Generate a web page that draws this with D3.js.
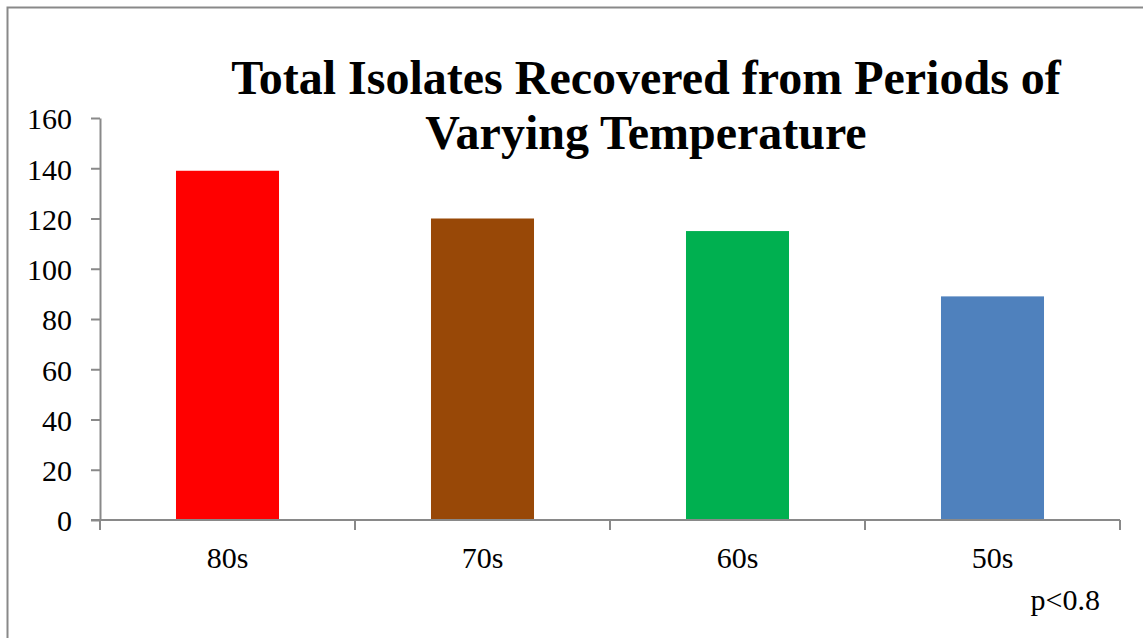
<!DOCTYPE html>
<html>
<head>
<meta charset="utf-8">
<script src="https://cdn.jsdelivr.net/npm/d3@7"></script>
<style>
  html, body { margin: 0; padding: 0; background: #fff; }
  svg { display: block; }
  svg text { font-family: "Liberation Serif", "Times New Roman", Times, serif; fill: #000; }
</style>
</head>
<body>
<svg id="chart" width="1143" height="638"></svg>
<script>
// Isolate counts per temperature period
const categories = ["80s", "70s", "60s", "50s"];
const isolates = [139, 120, 115, 89];
const barColors = ["#FF0000", "#984807", "#00B050", "#4F81BD"];
const yTicks = [0, 20, 40, 60, 80, 100, 120, 140, 160];
const titleLines = ["Total Isolates Recovered from Periods of", "Varying Temperature"];
const note = "p<0.8";

const serif = "'Liberation Serif', 'Times New Roman', Times, serif";
const svg = d3.select("#chart");
const axisColor = "#898989";

// outer frame (open on the right)
svg.append("path")
  .attr("d", "M7.5,645 V7.5 H1143")
  .attr("fill", "none")
  .attr("stroke", axisColor)
  .attr("stroke-width", 2);

const plot = { left: 100, right: 1120, top: 118, bottom: 520 };

const x = d3.scaleBand()
  .domain(categories)
  .range([plot.left, plot.right])
  .padding(0);

const y = d3.scaleLinear()
  .domain([0, 160])
  .range([plot.bottom, plot.top]);

const barFrac = 0.404;

// bars
svg.append("g").selectAll("rect")
  .data(categories)
  .join("rect")
  .attr("x", (d) => x(d) + x.bandwidth() * (1 - barFrac) / 2)
  .attr("width", x.bandwidth() * barFrac)
  .attr("y", (d, i) => y(isolates[i]))
  .attr("height", (d, i) => y(0) - y(isolates[i]))
  .attr("fill", (d, i) => barColors[i]);

// y axis
const yAxis = svg.append("g")
  .attr("transform", `translate(${plot.left},0)`)
  .call(d3.axisLeft(y).tickValues(yTicks).tickSize(9).tickPadding(19).tickSizeOuter(0));
yAxis.attr("font-family", serif);
yAxis.select(".domain").attr("stroke", axisColor).attr("stroke-width", 2);
yAxis.selectAll(".tick line").attr("stroke", axisColor).attr("stroke-width", 2);
yAxis.selectAll(".tick text")
  .style("font-family", serif)
  .style("font-size", "30px")
  .attr("fill", "#000")
  .attr("dy", "0.36em");

// x axis: ticks sit on category boundaries
const xAxisG = svg.append("g").attr("transform", `translate(0,${plot.bottom})`);
xAxisG.append("line")
  .attr("x1", plot.left - 9).attr("x2", plot.right)
  .attr("y1", 0).attr("y2", 0)
  .attr("stroke", axisColor).attr("stroke-width", 2);
const boundaries = categories.map((c) => x(c)).concat([x(categories[categories.length - 1]) + x.bandwidth()]);
xAxisG.selectAll("line.tick")
  .data(boundaries)
  .join("line")
  .attr("class", "tick")
  .attr("x1", (d) => d).attr("x2", (d) => d)
  .attr("y1", 0).attr("y2", 10)
  .attr("stroke", axisColor).attr("stroke-width", 2);
xAxisG.selectAll("text")
  .data(categories)
  .join("text")
  .attr("x", (d) => x(d) + x.bandwidth() / 2)
  .attr("y", 48)
  .attr("text-anchor", "middle")
  .style("font-family", serif)
  .style("font-size", "30px")
  .text((d) => d);

// title
svg.append("g").selectAll("text")
  .data(titleLines)
  .join("text")
  .attr("x", 646)
  .attr("y", (d, i) => 94 + i * 55)
  .attr("text-anchor", "middle")
  .style("font-family", serif)
  .style("font-size", "48px")
  .style("font-weight", "bold")
  .text((d) => d);

// significance note
svg.append("text")
  .attr("x", 1100)
  .attr("y", 610)
  .attr("text-anchor", "end")
  .style("font-family", serif)
  .style("font-size", "30px")
  .text(note);
</script>
</body>
</html>
